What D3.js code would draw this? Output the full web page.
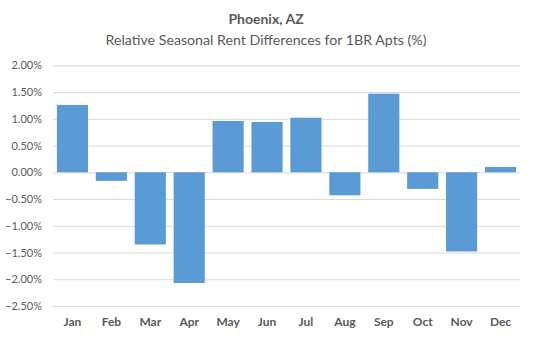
<!DOCTYPE html>
<html><head><meta charset="utf-8">
<script src="https://cdn.jsdelivr.net/npm/d3@7"></script>
<style>body{margin:0;background:#fff;} svg{display:block;}</style>
</head><body>
<svg id="c" width="535" height="337"></svg>
<script>
const months = ["Jan","Feb","Mar","Apr","May","Jun","Jul","Aug","Sep","Oct","Nov","Dec"];
const values = [1.26, -0.16, -1.35, -2.07, 0.96, 0.94, 1.02, -0.43, 1.47, -0.31, -1.48, 0.10];
const yTicks = [2.0, 1.5, 1.0, 0.5, 0.0, -0.5, -1.0, -1.5, -2.0, -2.5];
const titleText = "Phoenix, AZ";
const subtitleText = "Relative Seasonal Rent Differences for 1BR Apts (%)";

(function () {
const svg = d3.select("#c");
const font = "Lato, 'Open Sans', sans-serif";
const mLeft = 53, mRight = 520, mTop = 65.3, mBottom = 306;

const x = d3.scaleBand().domain(months).range([mLeft, mRight]).paddingInner(0.2).paddingOuter(0.1);
const y = d3.scaleLinear().domain([-2.5, 2.0]).range([mBottom, mTop]);

svg.append("text").attr("x", 266).attr("y", 24).attr("text-anchor", "middle")
  .attr("font-family", font).attr("font-size", 14).attr("font-weight", "bold")
  .attr("fill", "#595959").text(titleText);
svg.append("text").attr("x", 266).attr("y", 45).attr("text-anchor", "middle")
  .attr("font-family", font).attr("font-size", 14.2)
  .attr("fill", "#595959").text(subtitleText);

const yAxis = svg.append("g").attr("transform", `translate(${mLeft},0)`)
  .call(d3.axisLeft(y).tickValues(yTicks).tickSize(-(mRight - mLeft)).tickPadding(11)
    .tickFormat(d => d3.format(".2f")(d) + "%"));
yAxis.select(".domain").remove();
yAxis.selectAll(".tick line").attr("stroke", "#d9d9d9").attr("stroke-width", 1);
yAxis.selectAll(".tick text").attr("font-family", font).attr("font-size", 11).attr("fill", "#595959");

svg.append("g").selectAll("rect").data(values).join("rect")
  .attr("x", (d, i) => x(months[i]))
  .attr("width", x.bandwidth())
  .attr("y", d => y(Math.max(0, d)))
  .attr("height", d => Math.abs(y(d) - y(0)))
  .attr("fill", "#5b9bd5");

const xAxis = svg.append("g").attr("transform", `translate(0,${mBottom})`)
  .call(d3.axisBottom(x).tickSize(0).tickPadding(11));
xAxis.select(".domain").remove();
xAxis.selectAll(".tick text").attr("font-family", font).attr("font-size", 12)
  .attr("font-weight", "bold").attr("fill", "#595959");
})();
</script>
</body></html>
